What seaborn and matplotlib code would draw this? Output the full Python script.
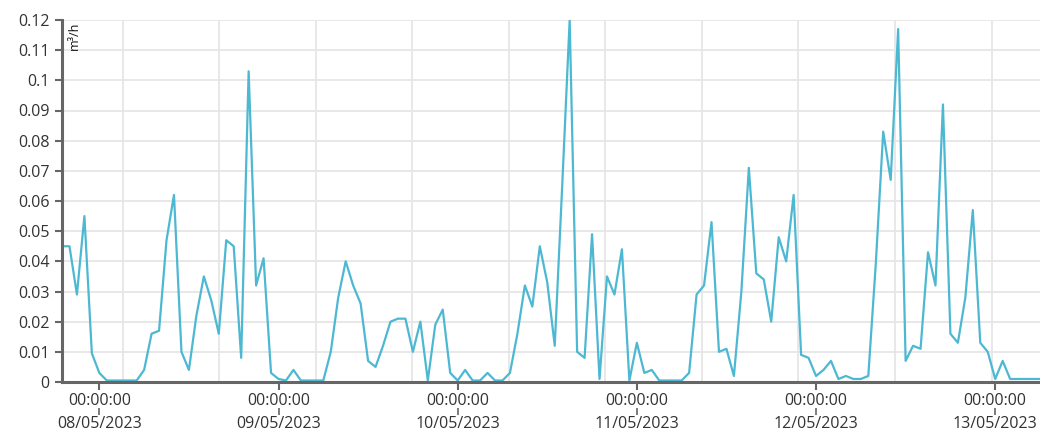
import matplotlib

matplotlib.use("Agg")
import matplotlib.dates as mdates
import matplotlib.pyplot as plt
import numpy as np
import pandas as pd
import seaborn as sns

# Hourly flow readings, starting 07/05/2023 19:00
start = "2023-05-07 19:00"
flow = [
    0.045, 0.045, 0.029, 0.055, 0.0095, 0.003, 0.0005, 0.0005, 0.0005, 0.0005,
    0.0005, 0.004, 0.016, 0.017, 0.047, 0.062, 0.010, 0.004, 0.022, 0.035,
    0.027, 0.016, 0.047, 0.045, 0.008, 0.103, 0.032, 0.041, 0.003, 0.001,
    0.0005, 0.004, 0.0005, 0.0005, 0.0005, 0.0005, 0.010, 0.028, 0.040, 0.032,
    0.026, 0.007, 0.005, 0.012, 0.020, 0.021, 0.021, 0.010, 0.020, 0.0005,
    0.019, 0.024, 0.003, 0.0005, 0.004, 0.0005, 0.0005, 0.003, 0.0005, 0.0005,
    0.003, 0.016, 0.032, 0.025, 0.045, 0.033, 0.012, 0.065, 0.120, 0.010,
    0.008, 0.049, 0.001, 0.035, 0.029, 0.044, 0.0005, 0.013, 0.003, 0.004,
    0.0005, 0.0005, 0.0005, 0.0005, 0.003, 0.029, 0.032, 0.053, 0.010, 0.011,
    0.002, 0.030, 0.071, 0.036, 0.034, 0.020, 0.048, 0.040, 0.062, 0.009,
    0.008, 0.002, 0.004, 0.007, 0.001, 0.002, 0.001, 0.001, 0.002, 0.039,
    0.083, 0.067, 0.117, 0.007, 0.012, 0.011, 0.043, 0.032, 0.092, 0.016,
    0.013, 0.028, 0.057, 0.013, 0.010, 0.001, 0.007, 0.001, 0.001, 0.001,
    0.001, 0.001,
]
day_ticks = ["2023-05-08", "2023-05-09", "2023-05-10", "2023-05-11", "2023-05-12", "2023-05-13"]
y_ticks = [0, 0.01, 0.02, 0.03, 0.04, 0.05, 0.06, 0.07, 0.08, 0.09, 0.1, 0.11, 0.12]
unit_label = "m³/h"

times = pd.date_range(start, periods=len(flow), freq="h")
df = pd.DataFrame({"time": times, "flow": flow})
midnights = pd.to_datetime(day_ticks)

sns.set_theme(style="white")
plt.rcParams["font.family"] = ["Open Sans", "DejaVu Sans"]

fig = plt.figure(figsize=(10.4, 4.46), dpi=100)
ax = fig.add_axes([62 / 1040, 1 - 382 / 446, 978 / 1040, 362 / 446])

sns.lineplot(data=df, x="time", y="flow", color="#4db8d2", linewidth=1.6, ax=ax)

ax.set_xlim(times[0], times[-1])
ax.set_ylim(0, 0.12)
ax.set_xlabel("")
ax.set_ylabel("")

# y axis
ax.set_yticks(y_ticks, labels=[f"{v:g}" for v in y_ticks])
ax.tick_params(axis="y", length=5, width=1.5, color="#666666", pad=4,
               labelsize=11.5, labelcolor="#333333", left=True)

# x axis: time on first row, date on second
ax.set_xticks(midnights, labels=["00:00:00"] * len(midnights))
ax.tick_params(axis="x", which="major", length=6, width=1.5, color="#666666",
               pad=2, labelsize=11.5, labelcolor="#333333", bottom=True)

# vertical grid lines (chart's own grid interval)
grid_times = pd.date_range(times[0] + pd.Timedelta(hours=8.14), periods=10,
                           freq=pd.Timedelta(hours=12.93))
ax.set_xticks(grid_times, minor=True)
ax.tick_params(axis="x", which="minor", length=0)
ax.grid(which="minor", axis="x", color="#e6e6e6", linewidth=1.3)
ax.grid(which="major", axis="y", color="#e6e6e6", linewidth=1.3)
ax.grid(which="major", axis="x", visible=False)
ax.set_axisbelow(True)

for side in ["top", "right"]:
    ax.spines[side].set_visible(False)
for side in ["left", "bottom"]:
    ax.spines[side].set_color("#666666")
    ax.spines[side].set_linewidth(2.2)

secax = ax.secondary_xaxis(-0.072)
secax.set_xticks(mdates.date2num(midnights),
                 labels=[d.strftime("%d/%m/%Y") for d in midnights])
secax.spines["bottom"].set_visible(False)
secax.tick_params(length=5, width=1.2, color="#666666", pad=1,
                  labelsize=11.5, labelcolor="#333333")

ax.text(0.0125, 0.995, unit_label, rotation=90, transform=ax.transAxes,
        ha="center", va="top", fontsize=9, color="#111111")

fig.savefig("out.png", dpi=100)
